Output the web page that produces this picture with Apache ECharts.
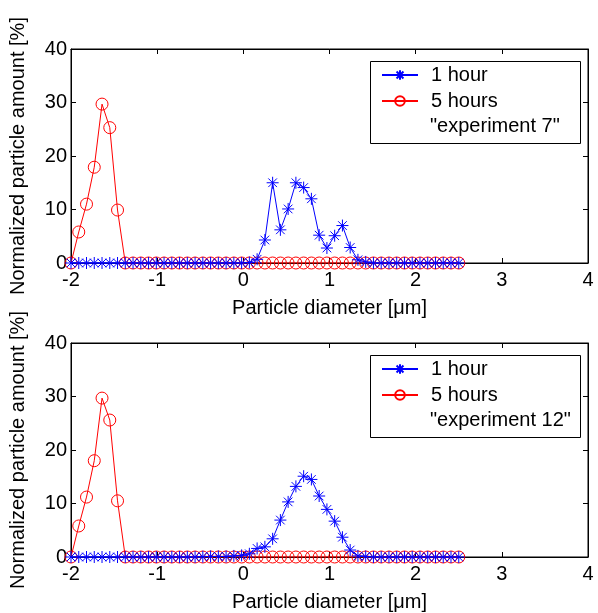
<!DOCTYPE html>
<html>
<head>
<meta charset="utf-8">
<script src="https://cdn.jsdelivr.net/npm/echarts@6/dist/echarts.min.js"></script>
<style>
  html, body { margin: 0; padding: 0; background: #fff; }
  #chart { width: 598px; height: 613px; }
</style>
</head>
<body>
<div id="chart"></div>
<script>
// particle diameter grid (shared by all series)
const diameters = [
  -2.00, -1.91, -1.82, -1.73, -1.64, -1.55, -1.46, -1.37, -1.28, -1.19,
  -1.10, -1.01, -0.92, -0.83, -0.74, -0.65, -0.56, -0.47, -0.38, -0.29,
  -0.20, -0.11, -0.02, 0.07, 0.16, 0.25, 0.34, 0.43, 0.52, 0.61,
  0.70, 0.79, 0.88, 0.97, 1.06, 1.15, 1.24, 1.33, 1.42, 1.51,
  1.60, 1.69, 1.78, 1.87, 1.96, 2.05, 2.14, 2.23, 2.32, 2.41, 2.50
];

// experiment 7
const exp7OneHour = [
  0, 0, 0, 0, 0, 0, 0, 0, 0, 0,
  0, 0, 0, 0, 0, 0, 0, 0, 0, 0,
  0, 0, 0, 0.1, 0.7, 4.3, 15, 6.2, 10.1, 15,
  14.1, 12, 5.2, 2.8, 5.1, 7.0, 2.9, 0.6, 0.2, 0,
  0, 0, 0, 0, 0, 0, 0, 0, 0, 0, 0
];
const exp7FiveHours = [
  0, 5.8, 11, 17.9, 29.7, 25.3, 9.9, 0, 0, 0,
  0, 0, 0, 0, 0, 0, 0, 0, 0, 0,
  0, 0, 0, 0, 0, 0, 0, 0, 0, 0,
  0, 0, 0, 0, 0, 0, 0, 0, 0, 0,
  0, 0, 0, 0, 0, 0, 0, 0, 0, 0, 0
];

// experiment 12
const exp12OneHour = [
  0, 0, 0, 0, 0, 0, 0, 0, 0, 0,
  0, 0, 0, 0, 0, 0, 0, 0.05, 0.1, 0.1,
  0.1, 0.2, 0.3, 0.6, 1.6, 1.9, 3.4, 6.9, 10.3, 13.2,
  15.1, 14.5, 11.4, 8.9, 6.7, 3.7, 1.3, 0.2, 0.1, 0,
  0, 0, 0, 0, 0, 0, 0, 0, 0, 0, 0
];
const exp12FiveHours = [
  0, 5.8, 11.2, 18, 29.7, 25.6, 10.5, 0, 0, 0,
  0, 0, 0, 0, 0, 0, 0, 0, 0, 0,
  0, 0, 0, 0, 0, 0, 0, 0, 0, 0,
  0, 0, 0, 0, 0, 0, 0, 0, 0, 0,
  0, 0, 0, 0, 0, 0, 0, 0, 0, 0, 0
];

const xTicks = [-2, -1, 0, 1, 2, 3, 4];
const yTicks = [0, 10, 20, 30, 40];
const seriesNames = ['1 hour', '5 hours'];
const experimentLabels = ['"experiment 7"', '"experiment 12"'];

const chart = echarts.init(document.getElementById('chart'));

const FONT = 'Liberation Sans, Arial, sans-serif';
const star = 'path://M0,-5L0,5M-5,0L5,0M-3.6,-3.6L3.6,3.6M-3.6,3.6L3.6,-3.6';

const pairs = (ys) => diameters.map((d, i) => [d, ys[i]]);

const grids = [
  { left: 71, right: 10, top: 49, height: 214, show: true, borderColor: '#000', borderWidth: 1 },
  { left: 71, right: 10, top: 343, height: 215, show: true, borderColor: '#000', borderWidth: 1 }
];

const xAxes = [];
const yAxes = [];
grids.forEach((g, k) => {
  const tick = { show: true, inside: true, length: 5, lineStyle: { color: '#000' } };
  xAxes.push({
    gridIndex: k, type: 'value', min: xTicks[0], max: xTicks[xTicks.length - 1], interval: 1,
    position: 'bottom',
    name: 'Particle diameter [\u03bcm]', nameLocation: 'middle', nameGap: 35,
    nameTextStyle: { fontFamily: FONT, fontSize: 20, color: '#000' },
    axisLine: { show: true, onZero: false, lineStyle: { color: '#000' } },
    axisTick: tick,
    axisLabel: { fontFamily: FONT, fontSize: 20, color: '#000', margin: 7 },
    splitLine: { show: false }
  });
  xAxes.push({
    gridIndex: k, type: 'value', min: xTicks[0], max: xTicks[xTicks.length - 1], interval: 1,
    position: 'top',
    axisLine: { show: true, onZero: false, lineStyle: { color: '#000' } },
    axisTick: tick, axisLabel: { show: false }, splitLine: { show: false }
  });
  yAxes.push({
    gridIndex: k, type: 'value', min: yTicks[0], max: yTicks[yTicks.length - 1], interval: 10,
    position: 'left',
    name: 'Normalized particle amount [%]', nameLocation: 'middle', nameGap: 43,
    nameTextStyle: { fontFamily: FONT, fontSize: 20, color: '#000' },
    axisLine: { show: true, onZero: false, lineStyle: { color: '#000' } },
    axisTick: tick,
    axisLabel: { fontFamily: FONT, fontSize: 20, color: '#000', margin: 4 },
    splitLine: { show: false }
  });
  yAxes.push({
    gridIndex: k, type: 'value', min: yTicks[0], max: yTicks[yTicks.length - 1], interval: 10,
    position: 'right',
    axisLine: { show: true, onZero: false, lineStyle: { color: '#000' } },
    axisTick: tick, axisLabel: { show: false }, splitLine: { show: false }
  });
});

const plots = [
  [exp7OneHour, exp7FiveHours],
  [exp12OneHour, exp12FiveHours]
];

const series = [];
plots.forEach((p, k) => {
  series.push({
    name: seriesNames[1], type: 'line', xAxisIndex: 2 * k, yAxisIndex: 2 * k,
    data: pairs(p[1]), symbol: 'circle', symbolSize: 12, showAllSymbol: true,
    lineStyle: { color: '#ff0000', width: 1 },
    itemStyle: { color: 'rgba(0,0,0,0)', borderColor: '#ff0000', borderWidth: 1 },
    animation: false, z: 2
  });
  series.push({
    name: seriesNames[0], type: 'line', xAxisIndex: 2 * k, yAxisIndex: 2 * k,
    data: pairs(p[0]), symbol: star, symbolSize: 12, showAllSymbol: true,
    lineStyle: { color: '#0000ff', width: 1 },
    itemStyle: { color: '#0000ff', borderColor: '#0000ff', borderWidth: 1 },
    animation: false, z: 3
  });
});

const legendTops = [65, 359];
const legends = legendTops.map(t => ({
  orient: 'vertical', left: 381, top: t, z: 10, padding: 0,
  data: seriesNames, itemWidth: 36, itemHeight: 12, itemGap: 6,
  textStyle: { fontFamily: FONT, fontSize: 20, color: '#000', padding: [0, 0, 0, 8] },
  selectedMode: false
}));

const graphic = [];
legendTops.forEach((t, k) => {
  graphic.push({
    type: 'rect', left: 370, top: t - 4, shape: { width: 210, height: 82 },
    style: { fill: '#fff', stroke: '#000', lineWidth: 1 }, z: 5
  });
  graphic.push({
    type: 'text', left: 430, top: t + 51,
    style: { text: experimentLabels[k], font: '20px ' + FONT, fill: '#000' }, z: 6
  });
});

chart.setOption({
  animation: false,
  grid: grids,
  xAxis: xAxes,
  yAxis: yAxes,
  series: series,
  legend: legends,
  graphic: graphic
});
</script>
</body>
</html>
